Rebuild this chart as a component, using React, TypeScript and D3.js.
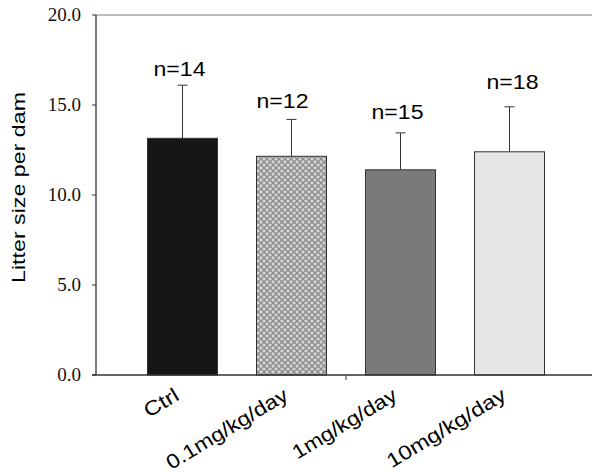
import React from 'react';
import * as d3 from 'd3';

// groups, means, upper error (mean + SD) and sample sizes
const groups = ['Ctrl', '0.1mg/kg/day', '1mg/kg/day', '10mg/kg/day'];
const means = [13.15, 12.15, 11.4, 12.4];
const upperErr = [16.1, 14.2, 13.45, 14.9];
const nLabels = ['n=14', 'n=12', 'n=15', 'n=18'];
const nLabelLevel = [16.6, 14.85, 14.25, 15.9];
const yTicks = [0, 5, 10, 15, 20];

const W = 592;
const H = 476;
const left = 96;
const right = 596;
const top = 15;
const bottom = 375;

// tiny horizontal nudges for the n= labels, as placed in the original
const labelNudge = [-3, -9, -3, 3];
const fills = ['#161616', 'url(#xhatch)', '#7a7a7a', '#e6e6e6'];
const xLabelLen = [37, 138, 118, 135];

const sans = '"Liberation Sans", Arial, Helvetica, sans-serif';
const serif = '"Liberation Serif", "Times New Roman", "DejaVu Serif", serif';

const App = () => {
  const x = d3.scaleBand<string>()
    .domain(groups)
    .range([left, right])
    .paddingInner(0.358)
    .paddingOuter(0.4725);
  const y = d3.scaleLinear().domain([0, 20]).range([bottom, top]);
  const bw = x.bandwidth();

  return (
    <svg width={W} height={H} style={{ position: 'absolute', left: 0, top: 0, background: '#fff' }}>
      <defs>
        <pattern id="xhatch" width={6} height={6} patternUnits="userSpaceOnUse">
          <rect width={6} height={6} fill="#d4d4d4" />
          <path d="M0,0 L6,6 M6,0 L0,6" stroke="#8c8c8c" strokeWidth={1.3} />
        </pattern>
      </defs>

      {/* frame top / right */}
      <line x1={left} x2={right} y1={top} y2={top} stroke="#7a7a7a" strokeWidth={1} />
      <line x1={right} x2={right} y1={top} y2={bottom} stroke="#7a7a7a" strokeWidth={1} />

      {/* bars + error bars */}
      {groups.map((g, i) => {
        const cx = (x(g) as number) + bw / 2;
        return (
          <g key={g}>
            <line x1={cx} x2={cx} y1={y(means[i])} y2={y(upperErr[i])} stroke="#333" strokeWidth={1} />
            <line x1={cx - 5} x2={cx + 5} y1={y(upperErr[i])} y2={y(upperErr[i])} stroke="#333" strokeWidth={1} />
            <rect
              x={x(g)}
              y={y(means[i])}
              width={bw}
              height={y(0) - y(means[i])}
              fill={fills[i]}
              stroke="#333"
              strokeWidth={1}
            />
            <text
              x={cx + labelNudge[i]}
              y={y(nLabelLevel[i])}
              textAnchor="middle"
              fontFamily={sans}
              fontSize={20.5}
              textLength={52}
              lengthAdjust="spacingAndGlyphs"
              fill="#000"
            >
              {nLabels[i]}
            </text>
            <text
              transform={`translate(${cx - 2},${bottom + 24}) rotate(-31)`}
              textAnchor="end"
              fontFamily={sans}
              fontSize={20}
              textLength={xLabelLen[i]}
              lengthAdjust="spacingAndGlyphs"
              fill="#000"
            >
              {g}
            </text>
          </g>
        );
      })}

      {/* y axis */}
      <line x1={left} x2={left} y1={top} y2={bottom} stroke="#333" strokeWidth={1.3} />
      {yTicks.map((t) => (
        <g key={t}>
          <line x1={left - 4} x2={left} y1={y(t)} y2={y(t)} stroke="#333" strokeWidth={1} />
          <text
            x={81}
            y={y(t) + 6}
            textAnchor="end"
            fontFamily={serif}
            fontSize={19}
            fill="#111"
          >
            {t.toFixed(1)}
          </text>
        </g>
      ))}

      {/* x axis */}
      <line x1={left - 4} x2={right} y1={bottom} y2={bottom} stroke="#333" strokeWidth={1.3} />
      <line x1={(left + right) / 2} x2={(left + right) / 2} y1={bottom} y2={bottom + 5} stroke="#333" strokeWidth={1} />

      {/* y label */}
      <text
        transform={`translate(25,187.5) rotate(-90)`}
        textAnchor="middle"
        fontFamily={sans}
        fontSize={19}
        textLength={191}
        lengthAdjust="spacingAndGlyphs"
        fill="#000"
      >
        Litter size per dam
      </text>
    </svg>
  );
};

export default App;
